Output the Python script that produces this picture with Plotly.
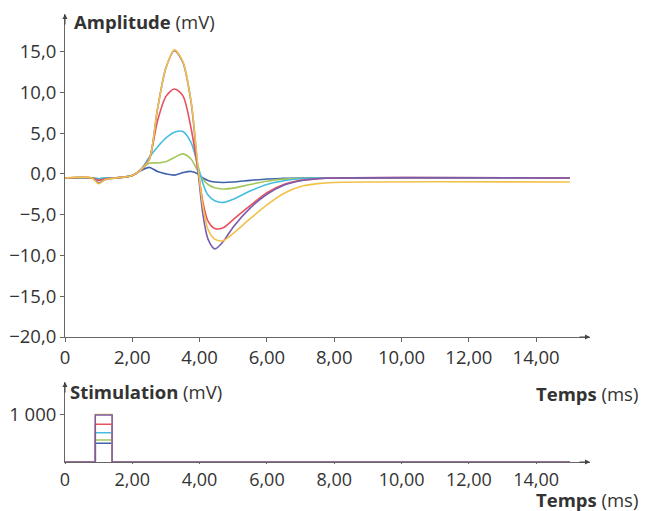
import plotly.graph_objects as go

# ---- data ----
time_ms = [0, 0.8, 1.0, 1.2, 1.5, 2.0, 2.25, 2.5, 2.75, 3.0, 3.25, 3.5, 3.75, 3.95,
           4.1, 4.25, 4.45, 4.7, 5.0, 5.5, 6.0, 6.5, 7.0, 7.5, 8.0, 15.0]

amp_blue = [-0.5, -0.5, -0.7, -0.5, -0.5, -0.2, 0.4, 0.8, 0.3, 0.0, -0.15, 0.15, 0.3, 0.0,
            -0.5, -0.8, -1.0, -1.05, -1.0, -0.8, -0.62, -0.55, -0.5, -0.5, -0.5, -0.5]
amp_green = [-0.5, -0.5, -0.6, -0.5, -0.5, -0.2, 0.5, 1.3, 1.35, 1.5, 2.0, 2.45, 1.8, 0.3,
             -0.7, -1.3, -1.7, -1.85, -1.75, -1.3, -0.9, -0.65, -0.55, -0.5, -0.5, -0.5]
amp_cyan = [-0.5, -0.5, -0.6, -0.5, -0.5, -0.2, 0.5, 2.0, 3.3, 4.4, 5.1, 5.2, 3.8, 1.0,
            -1.2, -2.6, -3.3, -3.5, -3.1, -2.1, -1.3, -0.85, -0.6, -0.52, -0.5, -0.5]
amp_red = [-0.5, -0.5, -0.8, -0.6, -0.5, -0.2, 0.5, 1.8, 6.5, 9.5, 10.4, 9.6, 5.5, 0.5,
           -3.5, -5.8, -6.7, -6.6, -5.6, -3.9, -2.3, -1.3, -0.8, -0.6, -0.5, -0.5]
amp_purple = [-0.5, -0.5, -1.1, -0.7, -0.5, -0.2, 0.5, 1.7, 8.0, 13.0, 15.1, 13.7, 8.7, 0.5,
              -5.0, -8.0, -9.2, -8.3, -6.5, -4.2, -2.5, -1.4, -0.85, -0.6, -0.5, -0.5]
amp_yellow = [-0.5, -0.5, -1.2, -0.7, -0.5, -0.2, 0.5, 1.7, 8.0, 13.0, 15.2, 13.8, 8.8, 1.0,
              -4.0, -6.8, -8.0, -8.2, -7.3, -5.5, -3.8, -2.4, -1.55, -1.2, -1.05, -1.0]

stim_blue = 400
stim_green = 470
stim_cyan = 620
stim_red = 800
stim_purple = 1000
stim_yellow = 1010
stim_start = 0.9
stim_end = 1.4
t_end = 15.0

x_tickvals = [0, 2, 4, 6, 8, 10, 12, 14]
x_ticktext = ["0", "2,00", "4,00", "6,00", "8,00", "10,00", "12,00", "14,00"]
y_tickvals = [15, 10, 5, 0, -5, -10, -15, -20]
y_ticktext = ["15,0", "10,0", "5,0", "0,0", "−5,0", "−10,0", "−15,0", "−20,0"]
stim_tickvals = [1000]
stim_ticktext = ["1 000"]

series = [
    ("blue", "#3f63ab", amp_blue, stim_blue),
    ("green", "#a4c75e", amp_green, stim_green),
    ("cyan", "#45bde0", amp_cyan, stim_cyan),
    ("red", "#e8505e", amp_red, stim_red),
    ("purple", "#7a5cad", amp_purple, stim_purple),
    ("yellow", "#f3c14a", amp_yellow, stim_yellow),
]
stim_order = [0, 1, 2, 3, 5, 4]  # purple drawn last on the baseline

FONT = "Open Sans"
TXT = "#333333"
AX = "#666666"
FS = 18.5

fig = go.Figure()
for name, col, amp, lvl in series:
    fig.add_trace(go.Scatter(x=time_ms, y=amp, mode="lines", name=name,
                             line=dict(color=col, width=1.6, shape="spline", smoothing=0.8),
                             xaxis="x", yaxis="y", showlegend=False, hoverinfo="skip"))
for i in stim_order:
    name, col, amp, lvl = series[i]
    fig.add_trace(go.Scatter(x=[0, stim_start, stim_start, stim_end, stim_end, t_end],
                             y=[0, 0, lvl, lvl, 0, 0], mode="lines", name=name,
                             line=dict(color=col, width=1.5),
                             xaxis="x2", yaxis="y2", showlegend=False, hoverinfo="skip"))

axis_common = dict(showline=True, linecolor=AX, linewidth=1, showgrid=False, zeroline=False,
                   ticks="outside", tickcolor=AX, automargin=False)

def tf(size):
    return dict(family=FONT, size=size, color=TXT)

# page has an 8px body margin, so the figure is 640x503
fig.update_layout(
    width=640, height=503,
    margin=dict(l=57, r=58, t=6, b=49),
    paper_bgcolor="white", plot_bgcolor="white",
    xaxis=dict(domain=[0, 1], range=[0, 15.6], anchor="y", tickvals=x_tickvals,
               ticktext=x_ticktext, ticklen=4, tickfont=tf(FS), **axis_common),
    yaxis=dict(domain=[0.279, 1.0], range=[-20, 19.6], anchor="x", tickvals=y_tickvals,
               ticktext=y_ticktext, ticklen=4, tickfont=tf(FS), **axis_common),
    xaxis2=dict(domain=[0, 1], range=[0, 15.6], anchor="y2", tickvals=x_tickvals,
                ticktext=x_ticktext, ticklen=1, tickfont=tf(18), **axis_common),
    yaxis2=dict(domain=[0, 0.1786], range=[0, 1700], anchor="x2", tickvals=stim_tickvals,
                ticktext=stim_ticktext, ticklen=4, tickfont=tf(FS), **axis_common),
)

arrow = dict(text="", showarrow=True, arrowhead=2, arrowsize=1, arrowwidth=1,
             arrowcolor="#444444")
fig.add_annotation(xref="x", yref="y", x=15.6, y=-20, ax=-12, ay=0, **arrow)
fig.add_annotation(xref="x", yref="y", x=0, y=19.6, ax=0, ay=12, **arrow)
fig.add_annotation(xref="x2", yref="y2", x=15.6, y=0, ax=-12, ay=0, **arrow)
fig.add_annotation(xref="x2", yref="y2", x=0, y=1700, ax=0, ay=12, **arrow)

lab = dict(showarrow=False, font=tf(FS))
fig.add_annotation(xref="x", yref="y", x=0.2, y=18.7, xanchor="left", yanchor="middle",
                   text="<b>Amplitude</b> (mV)", **lab)
fig.add_annotation(xref="x2", yref="y2", x=0.08, y=1490, xanchor="left", yanchor="middle",
                   text="<b>Stimulation</b> (mV)", **lab)
fig.add_annotation(xref="paper", yref="paper", x=1.095, y=0.152, xanchor="right",
                   yanchor="middle", text="<b>Temps</b> (ms)", **lab)
fig.add_annotation(xref="paper", yref="paper", x=1.095, y=-0.084, xanchor="right",
                   yanchor="middle", text="<b>Temps</b> (ms)", **lab)

fig.write_html("out.html")
